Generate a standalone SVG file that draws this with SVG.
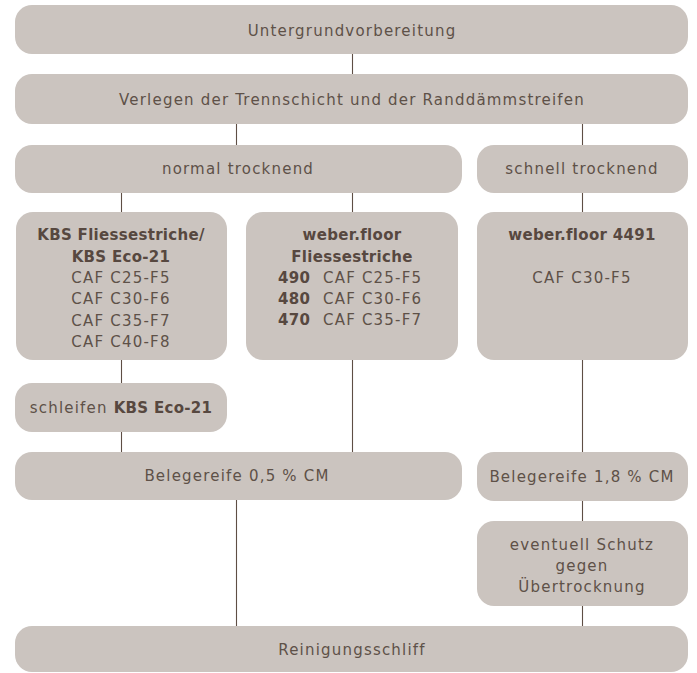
<svg xmlns="http://www.w3.org/2000/svg" width="697" height="673" viewBox="0 0 697 673">
<style>
.box{fill:#cbc4bf}
.t{font-family:"DejaVu Sans","Open Sans",sans-serif;font-size:15px;letter-spacing:1.2px;fill:#5e5148;text-anchor:middle}
.b{font-weight:bold;letter-spacing:0.3px;fill:#574840}
.s{text-anchor:start}
.c{stroke:#5e4e44;stroke-width:1.1;fill:none}
</style>
<rect width="697" height="673" fill="#ffffff"/>
<g id="connectors">
<line class="c" x1="352.5" y1="54" x2="352.5" y2="74"/>
<line class="c" x1="236.5" y1="124" x2="236.5" y2="145"/>
<line class="c" x1="582.5" y1="124" x2="582.5" y2="145"/>
<line class="c" x1="121.5" y1="193" x2="121.5" y2="212"/>
<line class="c" x1="352.5" y1="193" x2="352.5" y2="212"/>
<line class="c" x1="582.5" y1="193" x2="582.5" y2="212"/>
<line class="c" x1="121.5" y1="360" x2="121.5" y2="383"/>
<line class="c" x1="121.5" y1="432" x2="121.5" y2="452"/>
<line class="c" x1="352.5" y1="360" x2="352.5" y2="452"/>
<line class="c" x1="582.5" y1="360" x2="582.5" y2="452"/>
<line class="c" x1="582.5" y1="501" x2="582.5" y2="521"/>
<line class="c" x1="582.5" y1="606" x2="582.5" y2="626"/>
<line class="c" x1="236.5" y1="500" x2="236.5" y2="626"/>
</g>
<g id="n1"><rect class="box" x="15" y="5" width="673" height="49" rx="17"/><text class="t" x="352" y="36">Untergrundvorbereitung</text></g>
<g id="n2"><rect class="box" x="15" y="74" width="673" height="50" rx="17"/><text class="t" x="352" y="105">Verlegen der Trennschicht und der Randdämmstreifen</text></g>
<g id="n3"><rect class="box" x="15" y="145" width="447" height="48" rx="17"/><text class="t" x="238" y="174">normal trocknend</text></g>
<g id="n4"><rect class="box" x="477" y="145" width="211" height="48" rx="17"/><text class="t" x="582" y="174">schnell trocknend</text></g>
<g id="n5"><rect class="box" x="16" y="212" width="211" height="148" rx="17"/>
<text class="t b" x="121" y="240">KBS Fliessestriche/</text>
<text class="t b" x="121" y="262">KBS Eco-21</text>
<text class="t" x="121" y="283">CAF C25-F5</text>
<text class="t" x="121" y="304">CAF C30-F6</text>
<text class="t" x="121" y="326">CAF C35-F7</text>
<text class="t" x="121" y="347">CAF C40-F8</text></g>
<g id="n6"><rect class="box" x="246" y="212" width="212" height="148" rx="17"/>
<text class="t b" x="352" y="240">weber.floor</text>
<text class="t b" x="352" y="262">Fliessestriche</text>
<text class="t b s" x="278" y="283">490</text><text class="t s" x="323" y="283">CAF C25-F5</text>
<text class="t b s" x="278" y="304">480</text><text class="t s" x="323" y="304">CAF C30-F6</text>
<text class="t b s" x="278" y="325">470</text><text class="t s" x="323" y="325">CAF C35-F7</text></g>
<g id="n7"><rect class="box" x="477" y="212" width="211" height="148" rx="17"/>
<text class="t b" x="582" y="240">weber.floor 4491</text>
<text class="t" x="582" y="283">CAF C30-F5</text></g>
<g id="n8"><rect class="box" x="15" y="383" width="212" height="49" rx="17"/><text class="t" x="121" y="413">schleifen <tspan class="b">KBS Eco-21</tspan></text></g>
<g id="n9"><rect class="box" x="15" y="452" width="447" height="48" rx="17"/><text class="t" x="237" y="481">Belegereife 0,5 % CM</text></g>
<g id="n10"><rect class="box" x="477" y="452" width="211" height="49" rx="17"/><text class="t" x="582" y="482">Belegereife 1,8 % CM</text></g>
<g id="n11"><rect class="box" x="477" y="521" width="211" height="85" rx="17"/>
<text class="t" x="582" y="550">eventuell Schutz</text>
<text class="t" x="582" y="571">gegen</text>
<text class="t" x="582" y="592">Übertrocknung</text></g>
<g id="n12"><rect class="box" x="15" y="626" width="673" height="46" rx="17"/><text class="t" x="352" y="655">Reinigungsschliff</text></g>
</svg>
